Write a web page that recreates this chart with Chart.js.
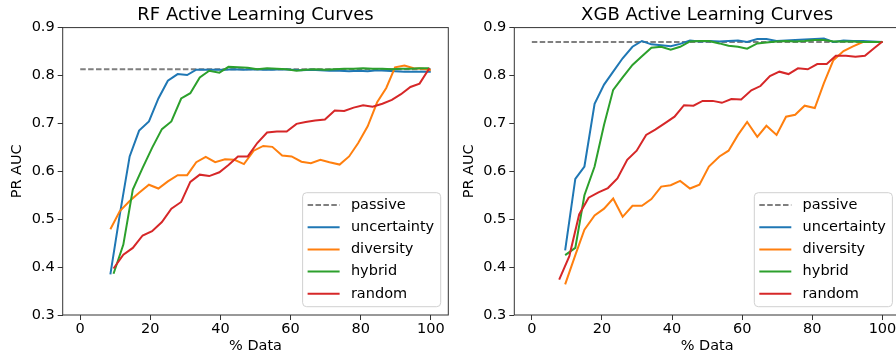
<!DOCTYPE html>
<html>
<head>
<meta charset="utf-8">
<script src="https://cdn.jsdelivr.net/npm/chart.js@4.4.0/dist/chart.umd.min.js"></script>
<style>
  html, body { margin: 0; padding: 0; background: #fff; overflow: hidden; }
  body { width: 896px; height: 358px; position: relative; }
  canvas { position: absolute; top: 0; }
  #rfChart { left: 0; }
  #xgbChart { left: 452px; }
</style>
</head>
<body>
<canvas id="rfChart" width="456" height="358"></canvas>
<canvas id="xgbChart" width="452" height="358"></canvas>
<script>
// axis ticks
const xTicks = [0, 20, 40, 60, 80, 100];
const yTicks = [0.3, 0.4, 0.5, 0.6, 0.7, 0.8, 0.9];

// passive baseline spans the whole x range
const passiveX = [0, 100];
const rfPassive = 0.813;
const xgbPassive = 0.870;

// % data at each step (series differ slightly)
const rfPctA = [8.6, 11.3, 14.1, 16.8, 19.6, 22.3, 25.0, 27.8, 30.5, 33.1, 35.8, 38.5, 41.3, 44.0, 46.7, 49.5, 52.2, 54.8, 57.6, 60.3, 63.1, 65.8, 68.5, 71.1, 74.0, 76.7, 79.3, 82.0, 84.7, 87.3, 89.8, 92.5, 95.1, 97.8, 100];
const rfPctB = [9.5, 12.3, 15.0, 17.8, 20.5, 23.3, 26.0, 28.8, 31.4, 34.1, 36.8, 39.7, 42.3, 45.0, 47.8, 50.5, 53.3, 56.1, 58.9, 61.7, 64.3, 67.0, 69.8, 72.6, 75.3, 78.0, 80.7, 83.4, 86.2, 88.9, 91.5, 94.2, 96.8, 99.6];
const xgbPctA = [9.5, 12.4, 15.0, 17.9, 20.6, 23.2, 25.9, 28.7, 31.4, 34.1, 36.9, 39.6, 42.3, 45.1, 47.8, 50.5, 53.5, 56.1, 58.8, 61.4, 64.3, 66.9, 69.8, 72.5, 75.1, 77.8, 80.7, 83.3, 86.0, 88.9, 91.6, 94.4, 97.2, 100];
const xgbPctB = [7.8, 10.7, 13.5, 16.2, 19.0, 21.7, 24.4, 27.2, 29.9, 32.6, 35.2, 38.1, 40.7, 43.4, 46.1, 48.7, 51.6, 54.2, 56.9, 59.7, 62.6, 65.2, 67.9, 70.6, 73.2, 75.9, 78.7, 81.4, 84.1, 86.7, 89.6, 92.3, 95.0, 97.6, 100];

// RF PR AUC
const rfUncertainty = [0.385, 0.510, 0.631, 0.685, 0.704, 0.752, 0.789, 0.803, 0.801, 0.812, 0.812, 0.812, 0.812, 0.813, 0.812, 0.813, 0.812, 0.812, 0.813, 0.812, 0.811, 0.812, 0.811, 0.810, 0.810, 0.809, 0.810, 0.809, 0.811, 0.810, 0.809, 0.808, 0.808, 0.808, 0.808];
const rfDiversity = [0.479, 0.517, 0.538, 0.555, 0.572, 0.564, 0.579, 0.592, 0.592, 0.619, 0.630, 0.619, 0.625, 0.624, 0.615, 0.643, 0.653, 0.651, 0.633, 0.631, 0.620, 0.617, 0.624, 0.619, 0.614, 0.631, 0.659, 0.694, 0.744, 0.774, 0.817, 0.821, 0.815, 0.814, 0.811];
const rfHybrid = [0.386, 0.447, 0.562, 0.607, 0.649, 0.688, 0.704, 0.752, 0.763, 0.796, 0.810, 0.806, 0.818, 0.817, 0.816, 0.813, 0.815, 0.814, 0.813, 0.810, 0.812, 0.813, 0.812, 0.813, 0.814, 0.814, 0.815, 0.814, 0.814, 0.813, 0.814, 0.814, 0.815, 0.815];
const rfRandom = [0.397, 0.426, 0.440, 0.466, 0.475, 0.494, 0.522, 0.536, 0.578, 0.593, 0.590, 0.598, 0.613, 0.631, 0.631, 0.659, 0.681, 0.683, 0.683, 0.699, 0.703, 0.706, 0.708, 0.727, 0.726, 0.733, 0.738, 0.735, 0.741, 0.749, 0.761, 0.776, 0.783, 0.815];

// XGB PR AUC
const xgbUncertainty = [0.435, 0.584, 0.610, 0.741, 0.781, 0.808, 0.836, 0.860, 0.872, 0.865, 0.863, 0.861, 0.866, 0.873, 0.871, 0.872, 0.871, 0.872, 0.873, 0.870, 0.876, 0.876, 0.872, 0.873, 0.874, 0.875, 0.876, 0.877, 0.870, 0.873, 0.872, 0.872, 0.871, 0.870];
const xgbDiversity = [0.364, 0.425, 0.478, 0.508, 0.522, 0.543, 0.505, 0.528, 0.528, 0.542, 0.568, 0.571, 0.580, 0.564, 0.572, 0.610, 0.631, 0.643, 0.676, 0.703, 0.672, 0.695, 0.676, 0.714, 0.718, 0.737, 0.732, 0.784, 0.832, 0.851, 0.861, 0.870, 0.870, 0.870];
const xgbHybrid = [0.425, 0.440, 0.550, 0.610, 0.697, 0.770, 0.796, 0.822, 0.840, 0.858, 0.860, 0.854, 0.860, 0.871, 0.872, 0.872, 0.867, 0.862, 0.860, 0.856, 0.867, 0.869, 0.871, 0.872, 0.871, 0.872, 0.874, 0.874, 0.871, 0.871, 0.871, 0.870, 0.870, 0.870];
const xgbRandom = [0.374, 0.423, 0.510, 0.545, 0.556, 0.565, 0.585, 0.624, 0.643, 0.676, 0.687, 0.701, 0.714, 0.738, 0.737, 0.747, 0.747, 0.743, 0.751, 0.750, 0.769, 0.778, 0.799, 0.808, 0.803, 0.815, 0.813, 0.824, 0.824, 0.841, 0.841, 0.839, 0.841, 0.857, 0.871];

const labels = ['passive', 'uncertainty', 'diversity', 'hybrid', 'random'];
const colors = ['#7f7f7f', '#1f77b4', '#ff7f0e', '#2ca02c', '#d62728'];

Chart.defaults.font.family = '"DejaVu Sans", sans-serif';
Chart.defaults.color = '#000';

function pts(xs, ys) {
  return xs.map((x, i) => ({ x: x, y: ys[i] }));
}

function buildDatasets(passive, lines) {
  const all = [pts(passiveX, [passive, passive])].concat(lines);
  return all.map((data, i) => ({
    label: labels[i],
    data: data,
    borderColor: colors[i],
    borderWidth: 2,
    borderDash: i === 0 ? [5.5, 2.4] : [],
    pointRadius: 0,
    tension: 0,
    fill: false,
    order: labels.length - i
  }));
}

// box around the axes, like matplotlib spines
const frame = {
  id: 'frame',
  afterDatasetsDraw(chart) {
    const { ctx, chartArea: a } = chart;
    ctx.save();
    ctx.strokeStyle = '#333';
    ctx.lineWidth = 1;
    ctx.strokeRect(a.left, a.top, a.right - a.left, a.bottom - a.top);
    ctx.restore();
  }
};

// legend box in the lower right corner of the axes
const boxLegend = {
  id: 'boxLegend',
  afterDraw(chart) {
    const { ctx, chartArea: a } = chart;
    const sets = chart.data.datasets;
    ctx.save();
    ctx.font = '14.5px "DejaVu Sans"';
    const textW = Math.max(...sets.map(d => ctx.measureText(d.label).width));
    const rowH = 22.2;
    const w = 48.3 + textW + 6.5;
    const h = sets.length * rowH + 3;
    const x0 = a.right - 7.6 - w;
    const y0 = a.bottom - 8.3 - h;

    ctx.beginPath();
    ctx.roundRect(x0, y0, w, h, 4);
    ctx.fillStyle = 'rgba(255,255,255,0.8)';
    ctx.fill();
    ctx.strokeStyle = '#d0d0d0';
    ctx.lineWidth = 1;
    ctx.stroke();

    sets.forEach((d, i) => {
      const cy = y0 + 12.3 + i * rowH;
      ctx.beginPath();
      ctx.setLineDash(d.borderDash);
      ctx.strokeStyle = d.borderColor;
      ctx.lineWidth = d.borderWidth;
      ctx.moveTo(x0 + 5, cy);
      ctx.lineTo(x0 + 37, cy);
      ctx.stroke();
      ctx.setLineDash([]);
      ctx.fillStyle = '#000';
      ctx.textBaseline = 'middle';
      ctx.fillText(d.label, x0 + 48.3, cy);
    });
    ctx.restore();
  }
};

function makeChart(id, title, datasets, yAxisWidth, rightPad) {
  return new Chart(document.getElementById(id), {
    type: 'line',
    data: { datasets },
    plugins: [frame, boxLegend],
    options: {
      responsive: false,
      animation: false,
      devicePixelRatio: 1,
      layout: { padding: { left: 0, right: rightPad, top: 0, bottom: 0 } },
      plugins: {
        legend: { display: false },
        tooltip: { enabled: false },
        title: {
          display: true,
          text: title,
          fullSize: false,
          color: '#000',
          font: { size: 18, weight: 'normal' },
          padding: { top: 5, bottom: 1 }
        }
      },
      scales: {
        x: {
          type: 'linear',
          min: -5,
          max: 105,
          afterBuildTicks: s => { s.ticks = xTicks.map(v => ({ value: v })); },
          afterFit: s => { s.height = 43; },
          border: { display: false },
          grid: { drawOnChartArea: false, drawTicks: true, tickLength: 5, tickWidth: 1, color: '#333' },
          ticks: { font: { size: 14.5 }, color: '#000', padding: 1, maxRotation: 0, autoSkip: false },
          title: { display: true, text: '% Data', color: '#000', font: { size: 14.5 }, padding: { top: 0, bottom: 3 } }
        },
        y: {
          type: 'linear',
          min: 0.3,
          max: 0.9,
          afterBuildTicks: s => { s.ticks = yTicks.map(v => ({ value: v })); },
          afterFit: s => { s.width = yAxisWidth; },
          border: { display: false },
          grid: { drawOnChartArea: false, drawTicks: true, tickLength: 5, tickWidth: 1, color: '#333' },
          ticks: { font: { size: 14.5 }, color: '#000', padding: 3, autoSkip: false, callback: v => v.toFixed(1) },
          title: { display: true, text: 'PR AUC', color: '#000', font: { size: 14.5 }, padding: { top: 9, bottom: 0 } }
        }
      }
    }
  });
}

makeChart('rfChart', 'RF Active Learning Curves', buildDatasets(rfPassive, [
  pts(rfPctA, rfUncertainty),
  pts(rfPctA, rfDiversity),
  pts(rfPctB, rfHybrid),
  pts(rfPctB, rfRandom)
]), 62.7, 7.7);

makeChart('xgbChart', 'XGB Active Learning Curves', buildDatasets(xgbPassive, [
  pts(xgbPctA, xgbUncertainty),
  pts(xgbPctA, xgbDiversity),
  pts(xgbPctA, xgbHybrid),
  pts(xgbPctB, xgbRandom)
]), 62.3, 4);
</script>
</body>
</html>
